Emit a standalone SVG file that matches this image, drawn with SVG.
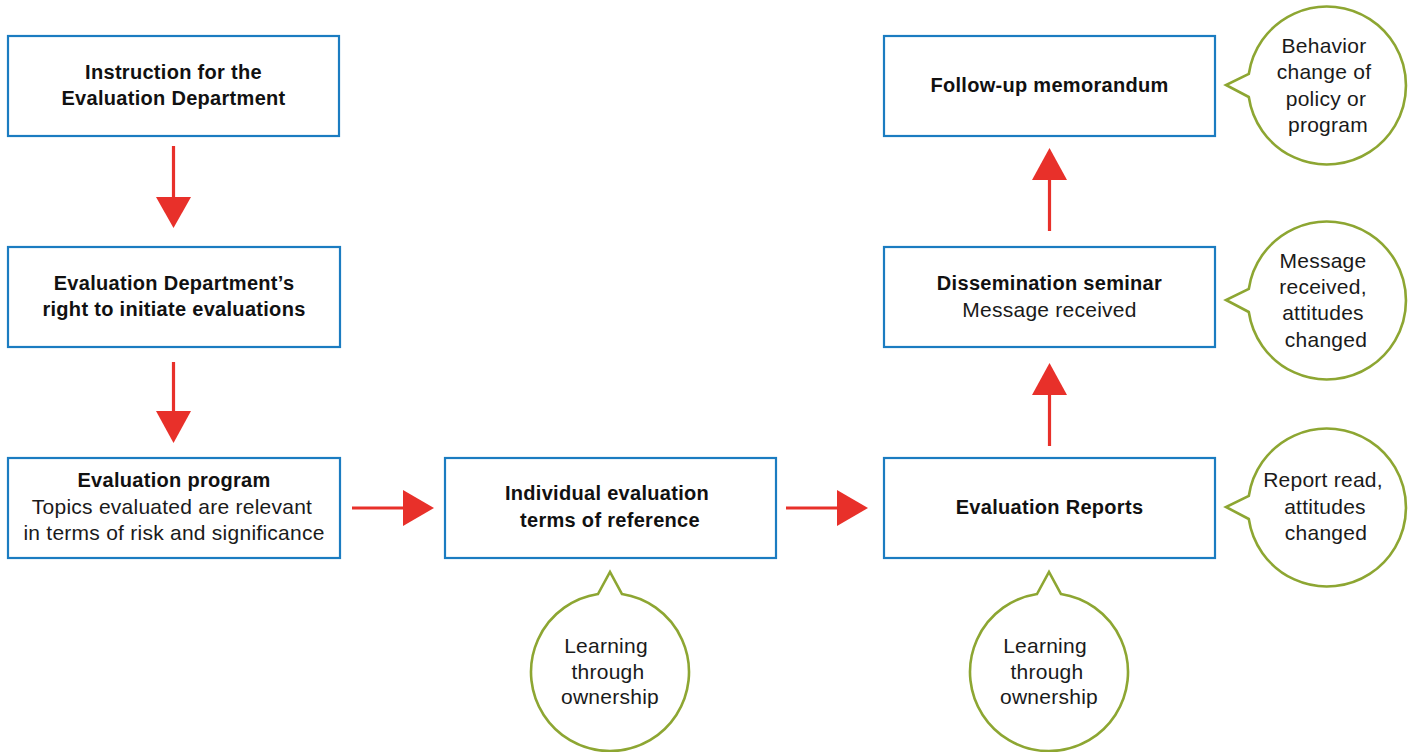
<svg xmlns="http://www.w3.org/2000/svg" width="1412" height="752" viewBox="0 0 1412 752">
<style>
.box{fill:#fff;stroke:#1b7cc1;stroke-width:2.2}
.bub{fill:#fff;stroke:#8da632;stroke-width:2.6;stroke-linejoin:miter}
.b{font-family:"Liberation Sans",Arial,sans-serif;font-weight:bold;font-size:20px;letter-spacing:0.3px;fill:#111;text-anchor:middle}
.r{font-family:"Liberation Sans",Arial,sans-serif;font-size:21px;letter-spacing:0.25px;fill:#1a1a1a;text-anchor:middle}
.sh{stroke:#e8302a;stroke-width:3.2;fill:none}
.hd{fill:#e8302a}
</style>
<rect width="1412" height="752" fill="#fff"/>
<g id="connectors">
<line class="sh" x1="173.5" y1="146" x2="173.5" y2="199"/><polygon class="hd" points="156,197 191,197 173.5,228"/>
<line class="sh" x1="173.5" y1="362" x2="173.5" y2="413"/><polygon class="hd" points="156,411 191,411 173.5,443"/>
<line class="sh" x1="352" y1="508" x2="405" y2="508"/><polygon class="hd" points="403,490 403,526 434,508"/>
<line class="sh" x1="786" y1="508" x2="839" y2="508"/><polygon class="hd" points="837,490 837,526 868,508"/>
<line class="sh" x1="1049.5" y1="446" x2="1049.5" y2="393"/><polygon class="hd" points="1032,395 1067,395 1049.5,363"/>
<line class="sh" x1="1049.5" y1="231" x2="1049.5" y2="178"/><polygon class="hd" points="1032,180 1067,180 1049.5,148"/>
</g>
<g id="n1"><rect class="box" x="8" y="36" width="331" height="100"/>
<text class="b" x="173.5" y="79">Instruction for the</text><text class="b" x="173.5" y="105">Evaluation Department</text></g>
<g id="n2"><rect class="box" x="8" y="247" width="332" height="100"/>
<text class="b" x="174" y="290">Evaluation Department’s</text><text class="b" x="174" y="316">right to initiate evaluations</text></g>
<g id="n3"><rect class="box" x="8" y="458" width="332" height="100"/>
<text class="b" x="174" y="487">Evaluation program</text><text class="r" x="172" y="514">Topics evaluated are relevant</text><text class="r" x="174" y="540">in terms of risk and significance</text></g>
<g id="n4"><rect class="box" x="445" y="458" width="331" height="100"/>
<text class="b" x="607" y="500">Individual evaluation</text><text class="b" x="610" y="527">terms of reference</text></g>
<g id="n5"><rect class="box" x="884" y="458" width="331" height="100"/>
<text class="b" x="1049.5" y="514">Evaluation Reports</text></g>
<g id="n6"><rect class="box" x="884" y="247" width="331" height="100"/>
<text class="b" x="1049.5" y="290">Dissemination seminar</text><text class="r" x="1049.5" y="317">Message received</text></g>
<g id="n7"><rect class="box" x="884" y="36" width="331" height="100"/>
<text class="b" x="1049.5" y="92">Follow-up memorandum</text></g>
<g id="c1"><path class="bub" d="M1248.8,97 L1226,85 L1248.8,74 A79,79 0 1 1 1248.8,97 Z"/>
<text class="r" x="1324" y="53">Behavior</text><text class="r" x="1324" y="79">change of</text><text class="r" x="1326" y="106">policy or</text><text class="r" x="1328" y="132">program</text></g>
<g id="c2"><path class="bub" d="M1248.8,312 L1226,300 L1248.8,289 A79,79 0 1 1 1248.8,312 Z"/>
<text class="r" x="1323" y="268">Message</text><text class="r" x="1323" y="294">received,</text><text class="r" x="1323" y="320">attitudes</text><text class="r" x="1326" y="347">changed</text></g>
<g id="c3"><path class="bub" d="M1248.8,519 L1226,507 L1248.8,496 A79,79 0 1 1 1248.8,519 Z"/>
<text class="r" x="1323" y="487">Report read,</text><text class="r" x="1325" y="514">attitudes</text><text class="r" x="1326" y="540">changed</text></g>
<g id="c4"><path class="bub" d="M598,594 L610,572 L622,594 A79,79 0 1 1 598,594 Z"/>
<text class="r" x="606" y="653">Learning</text><text class="r" x="608" y="679">through</text><text class="r" x="610" y="704">ownership</text></g>
<g id="c5"><path class="bub" d="M1037,594 L1049,572 L1061,594 A79,79 0 1 1 1037,594 Z"/>
<text class="r" x="1045" y="653">Learning</text><text class="r" x="1047" y="679">through</text><text class="r" x="1049" y="704">ownership</text></g>
</svg>
